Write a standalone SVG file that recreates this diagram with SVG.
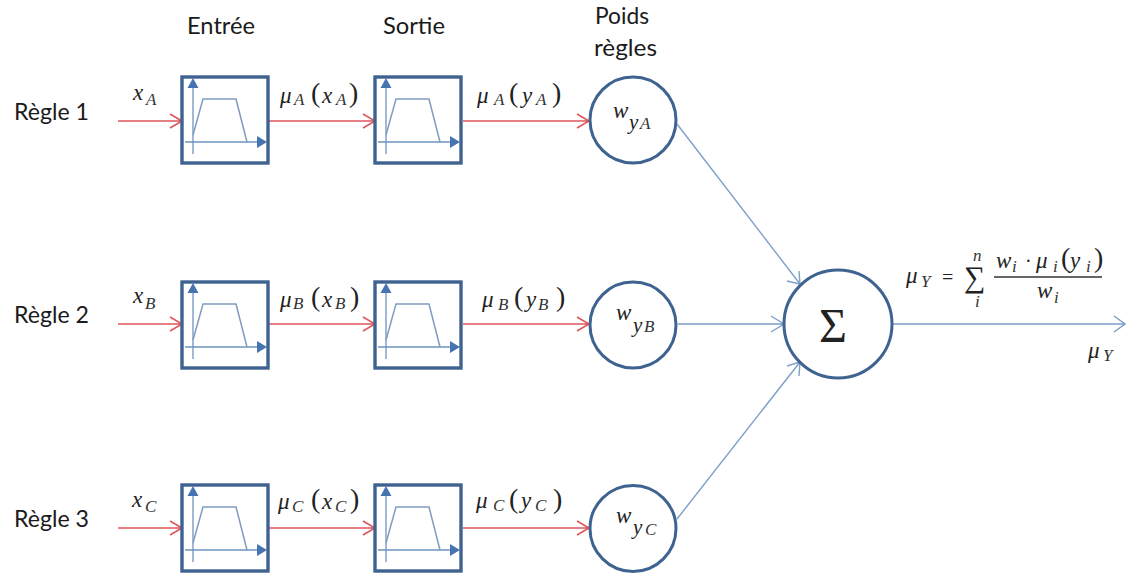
<svg xmlns="http://www.w3.org/2000/svg" xmlns:xlink="http://www.w3.org/1999/xlink" width="1126" height="576" viewBox="0 0 1126 576">
<style>
.lbl{font-family:"Lato","Open Sans","Liberation Sans",sans-serif;font-size:23px;fill:#1a1a1a}
.m{font-family:"Liberation Serif",serif;font-style:italic;font-size:23px;fill:#222}
.s{font-family:"Liberation Serif",serif;font-style:italic;font-size:17px;fill:#333}
.y{font-family:"Liberation Serif",serif;font-style:italic;font-size:21px;fill:#222}
.p{font-family:"Liberation Serif",serif;font-size:28px;fill:#222}
.up{font-family:"Liberation Serif",serif;fill:#222}
.box{fill:#fff;stroke:#3f6391;stroke-width:3.4}
.circ{fill:#fff;stroke:#3f6391;stroke-width:3}
.ax{stroke:#6f94bf;stroke-width:1.3;fill:none}
.tz{stroke:#7f9cc0;stroke-width:1.5;fill:none}
.hd{fill:#4674b0}
.red{stroke:#e0575c;stroke-width:1.6;fill:none}
.blu{stroke:#7e9fc7;stroke-width:1.4;fill:none}
</style>
<defs>
<g id="mf">
<rect class="box" x="0" y="0" width="86" height="86"/>
<path class="ax" d="M11 8V77M3 65H76"/>
<path class="tz" d="M11 58L21 22H54L65 65"/>
<path class="hd" d="M11 1L16.500 11H5.500ZM85 65L75 59V71Z"/>
</g>
</defs>
<g id="connectors">
<path class="red" d="M118 121H182M170 114L182 121L170 128"/>
<path class="red" d="M269 121H375M363 114L375 121L363 128"/>
<path class="red" d="M463 121H589M577 114L589 121L577 128"/>
<path class="red" d="M118 324H182M170 317L182 324L170 331"/>
<path class="red" d="M269 324H375M363 317L375 324L363 331"/>
<path class="red" d="M463 324H589M577 317L589 324L577 331"/>
<path class="red" d="M118 528H182M170 521L182 528L170 535"/>
<path class="red" d="M269 528H375M363 521L375 528L363 535"/>
<path class="red" d="M463 528H589M577 521L589 528L577 535"/>
<path class="blu" d="M677 124L800 284M787 281L800 284L799 271"/>
<path class="blu" d="M678 324H784M771 316L784 324L771 332"/>
<path class="blu" d="M677 519L800 362M787 366L800 362L799 376"/>
<path class="blu" d="M892 324H1125M1114 316L1125 324L1114 332"/>
</g>
<g id="headers">
<text class="lbl" x="187" y="34" textLength="68" lengthAdjust="spacingAndGlyphs">Entrée</text>
<text class="lbl" x="383" y="34" textLength="62" lengthAdjust="spacingAndGlyphs">Sortie</text>
<text class="lbl" x="595" y="24" textLength="54" lengthAdjust="spacingAndGlyphs">Poids</text>
<text class="lbl" x="594" y="56" textLength="63" lengthAdjust="spacingAndGlyphs">règles</text>
</g>
<g id="rule1">
<text class="lbl" x="14" y="120" textLength="75" lengthAdjust="spacingAndGlyphs">Règle 1</text>
<g id="in-a"><use xlink:href="#mf" href="#mf" x="182" y="77"/></g>
<g id="out-a"><use xlink:href="#mf" href="#mf" x="375" y="77"/></g>
<g id="w-a"><circle class="circ" cx="633" cy="120" r="43"/>
<text class="m" x="613" y="118">w</text><text class="y" x="629" y="129">y</text><text class="s" x="640" y="129">A</text></g>
<text class="m" x="133" y="100">x</text><text class="s" x="146" y="105">A</text>
<text class="m" x="280" y="103">μ</text><text class="s" x="294" y="105">A</text><text class="p" x="311" y="102">(</text><text class="m" x="322" y="103">x</text><text class="s" x="336" y="105">A</text><text class="p" x="349" y="102">)</text>
<text class="m" x="477" y="103">μ</text><text class="s" x="494" y="105">A</text><text class="p" x="509" y="102">(</text><text class="m" x="522" y="103">y</text><text class="s" x="536" y="105">A</text><text class="p" x="552" y="102">)</text>
</g>
<g id="rule2">
<text class="lbl" x="14" y="323" textLength="75" lengthAdjust="spacingAndGlyphs">Règle 2</text>
<g id="in-b"><use xlink:href="#mf" href="#mf" x="182" y="282"/></g>
<g id="out-b"><use xlink:href="#mf" href="#mf" x="375" y="282"/></g>
<g id="w-b"><circle class="circ" cx="633" cy="325" r="43"/>
<text class="m" x="616" y="320">w</text><text class="y" x="633" y="332">y</text><text class="s" x="644" y="332">B</text></g>
<text class="m" x="133" y="303">x</text><text class="s" x="145" y="309">B</text>
<text class="m" x="280" y="307">μ</text><text class="s" x="293" y="309">B</text><text class="p" x="311" y="306">(</text><text class="m" x="322" y="307">x</text><text class="s" x="335" y="309">B</text><text class="p" x="350" y="306">)</text>
<text class="m" x="482" y="307">μ</text><text class="s" x="498" y="310">B</text><text class="p" x="514" y="306">(</text><text class="m" x="526" y="307">y</text><text class="s" x="538" y="310">B</text><text class="p" x="556" y="306">)</text>
</g>
<g id="rule3">
<text class="lbl" x="14" y="527" textLength="75" lengthAdjust="spacingAndGlyphs">Règle 3</text>
<g id="in-c"><use xlink:href="#mf" href="#mf" x="182" y="485"/></g>
<g id="out-c"><use xlink:href="#mf" href="#mf" x="375" y="485"/></g>
<g id="w-c"><circle class="circ" cx="633" cy="528.500" r="43"/>
<text class="m" x="616" y="523">w</text><text class="y" x="633" y="534">y</text><text class="s" x="645" y="535">C</text></g>
<text class="m" x="132" y="507">x</text><text class="s" x="145" y="512">C</text>
<text class="m" x="278" y="509">μ</text><text class="s" x="292" y="512">C</text><text class="p" x="311" y="508">(</text><text class="m" x="322" y="509">x</text><text class="s" x="335" y="512">C</text><text class="p" x="350" y="508">)</text>
<text class="m" x="476" y="508">μ</text><text class="s" x="493" y="511">C</text><text class="p" x="509" y="508">(</text><text class="m" x="521" y="508">y</text><text class="s" x="535" y="511">C</text><text class="p" x="553" y="508">)</text>
</g>
<g id="sum">
<circle class="circ" cx="838" cy="324" r="54"/>
<text class="up" x="819" y="342" font-size="48">Σ</text>
</g>
<g id="formula">
<text class="m" x="906" y="283">μ</text><text class="s" x="921" y="287">Y</text>
<text class="up" x="942" y="284" font-size="20">=</text>
<text class="up" x="964" y="287" font-size="30">∑</text>
<text class="s" x="973" y="261">n</text><text class="s" x="975" y="307">i</text>
<path d="M994 277H1102" stroke="#333" stroke-width="1.300"/>
<text class="m" x="996" y="268">w</text><text class="s" x="1012" y="272">i</text>
<text class="up" x="1025" y="268" font-size="20">·</text>
<text class="m" x="1036" y="268">μ</text><text class="s" x="1053" y="272">i</text><text class="p" x="1061" y="267">(</text><text class="m" x="1070" y="268">y</text><text class="s" x="1086" y="272">i</text><text class="p" x="1094" y="267">)</text>
<text class="m" x="1037" y="298">w</text><text class="s" x="1054" y="303">i</text>
<text class="m" x="1088" y="358">μ</text><text class="s" x="1103" y="361">Y</text>
</g>
</svg>
